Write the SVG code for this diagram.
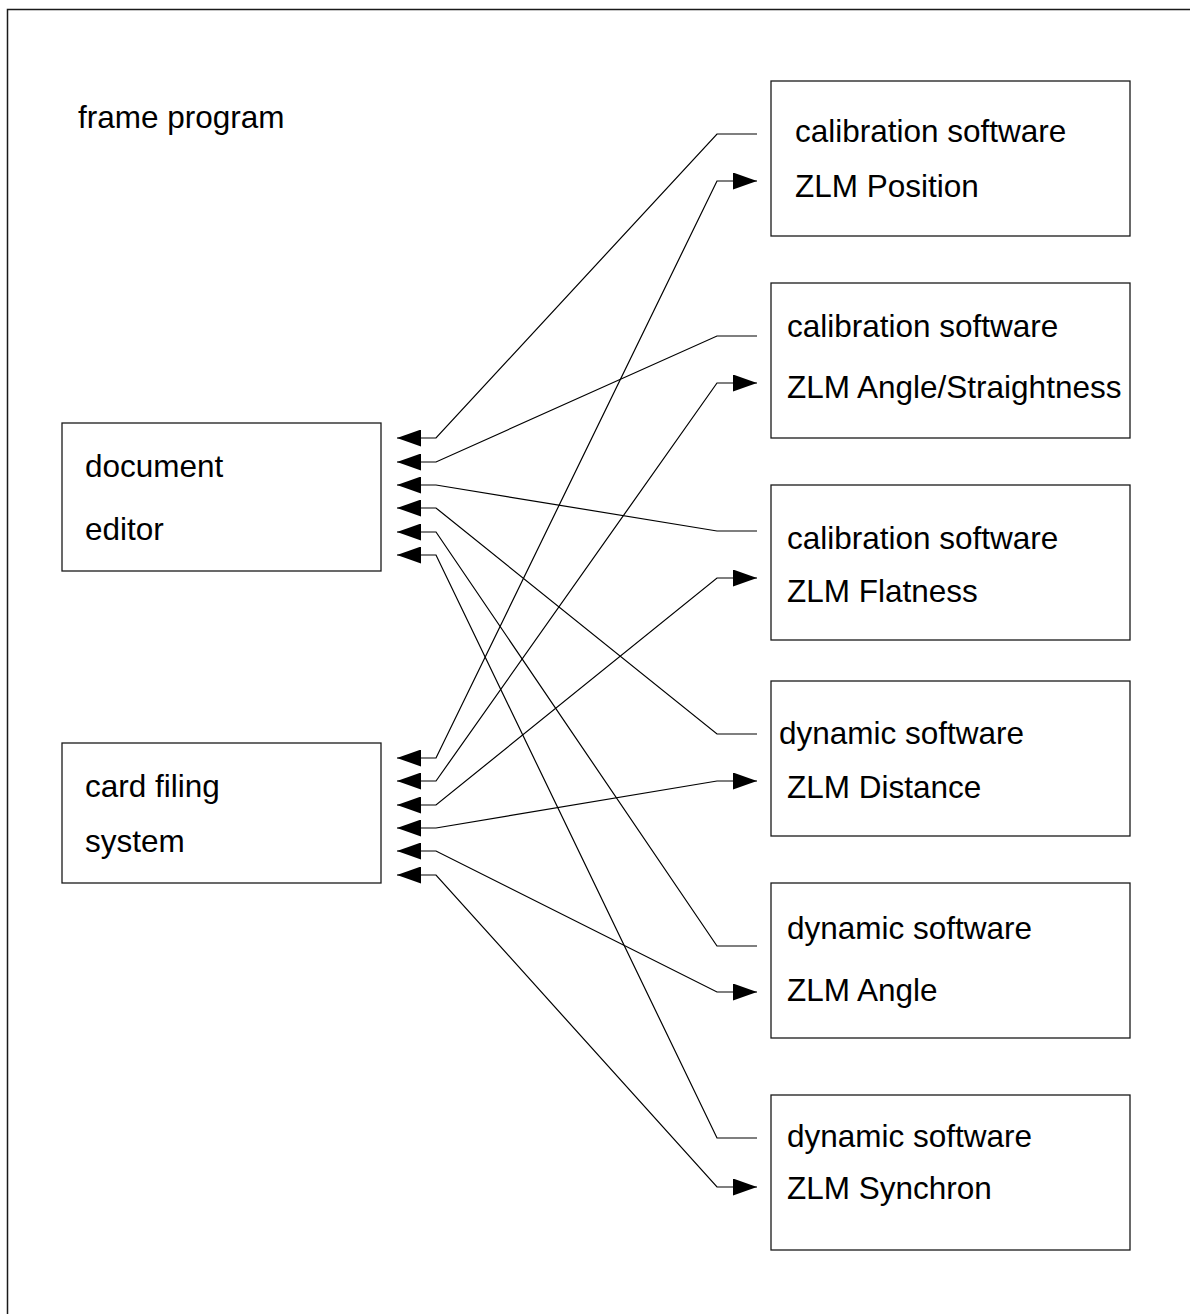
<svg xmlns="http://www.w3.org/2000/svg" width="1190" height="1314" viewBox="0 0 1190 1314">
<style>
.box{fill:#fff;stroke:#1a1a1a;stroke-width:1.3}
.t{font-family:"Liberation Sans",Arial,sans-serif;font-size:31.5px;fill:#000}
.c{fill:none;stroke:#000;stroke-width:1.2}
</style>
<defs>
<marker id="ah" markerUnits="userSpaceOnUse" markerWidth="24" markerHeight="17" viewBox="0 0 24 17" refX="24" refY="8.5" orient="auto-start-reverse">
<path d="M0,0 L24,8.5 L0,17 z" fill="#000"/>
</marker>
</defs>
<rect width="1190" height="1314" fill="#fff"/>
<rect x="7.5" y="9.5" width="1200" height="1330" fill="none" stroke="#1a1a1a" stroke-width="1.5"/>
<text class="t" x="78" y="128">frame program</text>
<g id="document-editor"><rect class="box" x="62" y="423" width="319" height="148"/><text class="t" x="85" y="477">document</text><text class="t" x="85" y="540">editor</text></g>
<g id="card-filing-system"><rect class="box" x="62" y="743" width="319" height="140"/><text class="t" x="85" y="797">card filing</text><text class="t" x="85" y="852">system</text></g>
<g id="zlm-position"><rect class="box" x="771" y="81" width="359" height="155"/><text class="t" x="795" y="142">calibration software</text><text class="t" x="795" y="197">ZLM Position</text></g>
<g id="zlm-angle-straightness"><rect class="box" x="771" y="283" width="359" height="155"/><text class="t" x="787" y="337">calibration software</text><text class="t" x="787" y="398">ZLM Angle/Straightness</text></g>
<g id="zlm-flatness"><rect class="box" x="771" y="485" width="359" height="155"/><text class="t" x="787" y="549">calibration software</text><text class="t" x="787" y="602">ZLM Flatness</text></g>
<g id="zlm-distance"><rect class="box" x="771" y="681" width="359" height="155"/><text class="t" x="779" y="744">dynamic software</text><text class="t" x="787" y="798">ZLM Distance</text></g>
<g id="zlm-angle"><rect class="box" x="771" y="883" width="359" height="155"/><text class="t" x="787" y="939">dynamic software</text><text class="t" x="787" y="1001">ZLM Angle</text></g>
<g id="zlm-synchron"><rect class="box" x="771" y="1095" width="359" height="155"/><text class="t" x="787" y="1147">dynamic software</text><text class="t" x="787" y="1199">ZLM Synchron</text></g>
<g id="connectors" class="c">
<path d="M757 134 L717 134 L436 438 L397 438" marker-end="url(#ah)"/>
<path d="M757 336 L717 336 L436 462 L397 462" marker-end="url(#ah)"/>
<path d="M757 531 L717 531 L436 485 L397 485" marker-end="url(#ah)"/>
<path d="M757 734 L717 734 L436 508 L397 508" marker-end="url(#ah)"/>
<path d="M757 946 L717 946 L436 532 L397 532" marker-end="url(#ah)"/>
<path d="M757 1138 L717 1138 L436 555 L397 555" marker-end="url(#ah)"/>
<path d="M397 758 L436 758 L717 181 L757 181" marker-start="url(#ah)" marker-end="url(#ah)"/>
<path d="M397 781 L436 781 L717 383 L757 383" marker-start="url(#ah)" marker-end="url(#ah)"/>
<path d="M397 805 L436 805 L717 578 L757 578" marker-start="url(#ah)" marker-end="url(#ah)"/>
<path d="M397 828 L436 828 L717 781 L757 781" marker-start="url(#ah)" marker-end="url(#ah)"/>
<path d="M397 851 L436 851 L717 992 L757 992" marker-start="url(#ah)" marker-end="url(#ah)"/>
<path d="M397 875 L436 875 L717 1187 L757 1187" marker-start="url(#ah)" marker-end="url(#ah)"/>
</g>
</svg>
